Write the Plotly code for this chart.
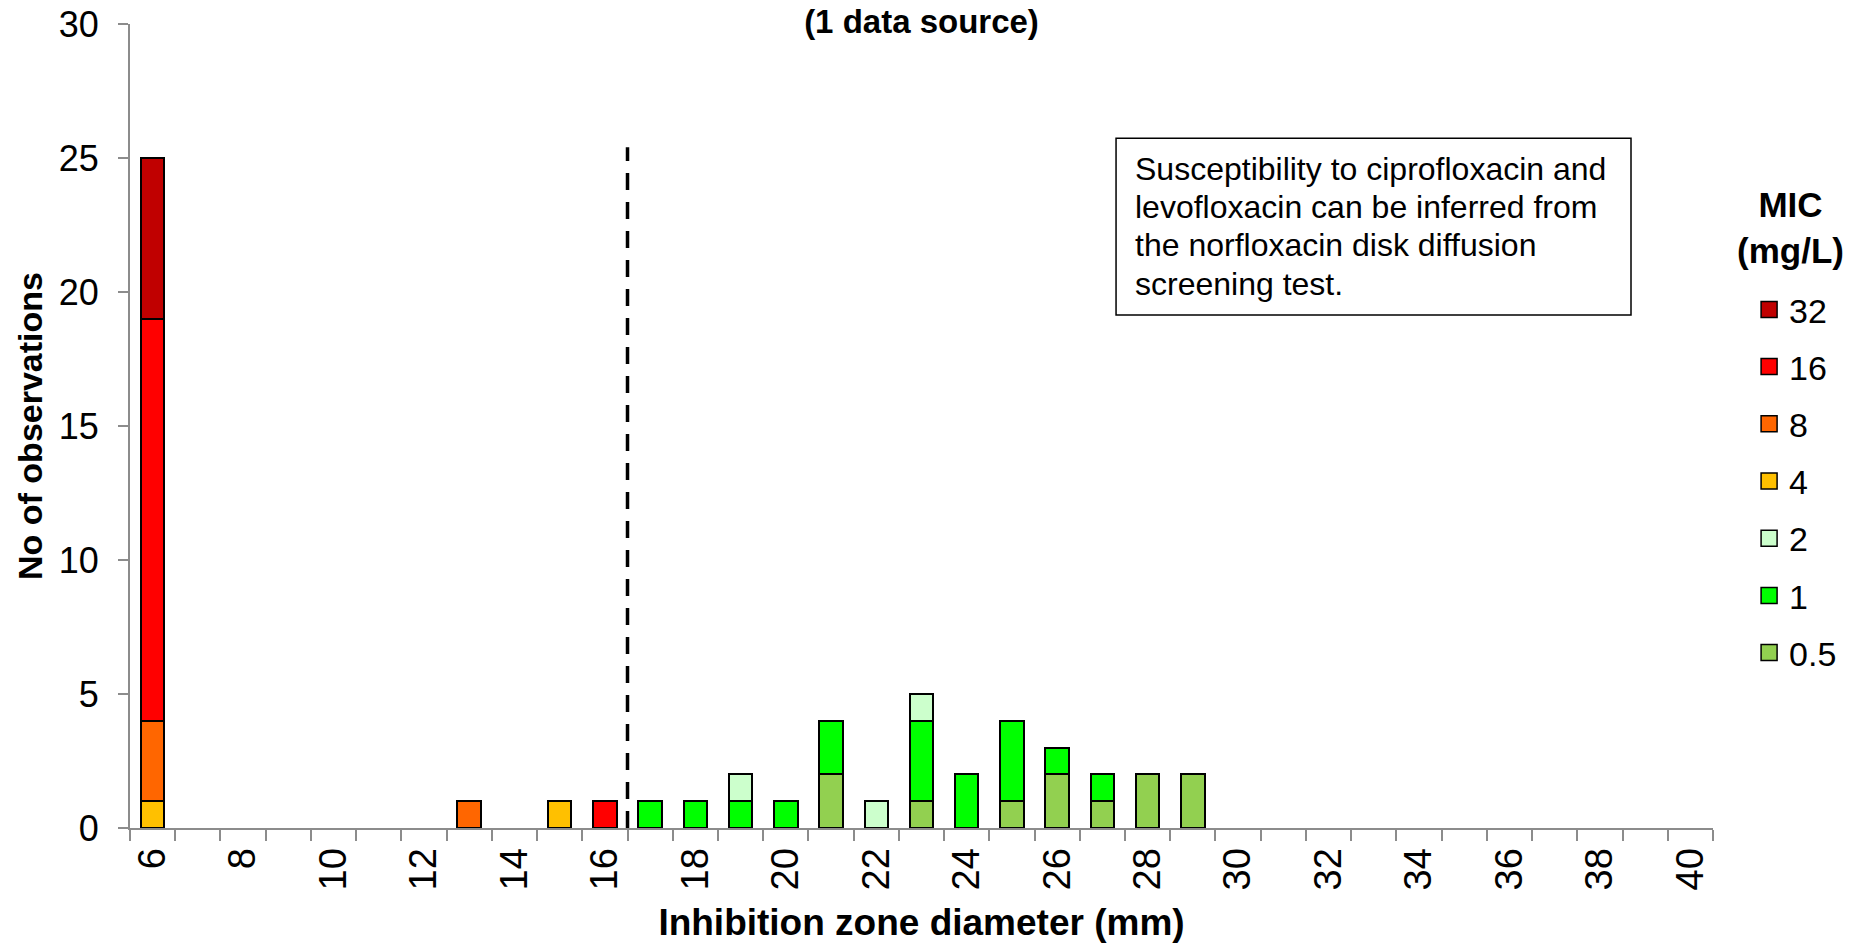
import plotly.graph_objects as go

# ---- data ----
diameters = list(range(6, 41))  # inhibition zone diameter (mm)
mic_labels = ["0.5", "1", "2", "4", "8", "16", "32"]  # stack order bottom -> top
mic_colors = ["#92D050", "#00FF00", "#CCFFCC", "#FFC000", "#FF6600", "#FF0000", "#C00000"]

#            6  7  8  9 10 11 12 13 14 15 16 17 18 19 20 21 22 23 24 25 26 27 28 29 30 31 32 33 34 35 36 37 38 39 40
mic_0_5 = [0, 0, 0, 0, 0, 0, 0, 0, 0, 0, 0, 0, 0, 0, 0, 2, 0, 1, 0, 1, 2, 1, 2, 2, 0, 0, 0, 0, 0, 0, 0, 0, 0, 0, 0]
mic_1   = [0, 0, 0, 0, 0, 0, 0, 0, 0, 0, 0, 1, 1, 1, 1, 2, 0, 3, 2, 3, 1, 1, 0, 0, 0, 0, 0, 0, 0, 0, 0, 0, 0, 0, 0]
mic_2   = [0, 0, 0, 0, 0, 0, 0, 0, 0, 0, 0, 0, 0, 1, 0, 0, 1, 1, 0, 0, 0, 0, 0, 0, 0, 0, 0, 0, 0, 0, 0, 0, 0, 0, 0]
mic_4   = [1, 0, 0, 0, 0, 0, 0, 0, 0, 1, 0, 0, 0, 0, 0, 0, 0, 0, 0, 0, 0, 0, 0, 0, 0, 0, 0, 0, 0, 0, 0, 0, 0, 0, 0]
mic_8   = [3, 0, 0, 0, 0, 0, 0, 1, 0, 0, 0, 0, 0, 0, 0, 0, 0, 0, 0, 0, 0, 0, 0, 0, 0, 0, 0, 0, 0, 0, 0, 0, 0, 0, 0]
mic_16  = [15, 0, 0, 0, 0, 0, 0, 0, 0, 0, 1, 0, 0, 0, 0, 0, 0, 0, 0, 0, 0, 0, 0, 0, 0, 0, 0, 0, 0, 0, 0, 0, 0, 0, 0]
mic_32  = [6, 0, 0, 0, 0, 0, 0, 0, 0, 0, 0, 0, 0, 0, 0, 0, 0, 0, 0, 0, 0, 0, 0, 0, 0, 0, 0, 0, 0, 0, 0, 0, 0, 0, 0]
mic_series = [mic_0_5, mic_1, mic_2, mic_4, mic_8, mic_16, mic_32]

x_tick_labels = list(range(6, 41, 2))
y_tick_values = [0, 5, 10, 15, 20, 25, 30]
breakpoint_mm = 16.5
breakpoint_top = 25.4

note_lines = [
    "Susceptibility to ciprofloxacin and",
    "levofloxacin can be inferred from",
    "the norfloxacin disk diffusion",
    "screening test.",
]

FONT = "Liberation Sans, Arial, sans-serif"
AXIS_GREY = "#8C8C8C"

fig = go.Figure()

for label, color, vals in zip(mic_labels, mic_colors, mic_series):
    fig.add_trace(go.Bar(
        x=diameters,
        y=[v if v else None for v in vals],
        name=label,
        marker=dict(color=color, line=dict(color="black", width=2)),
        showlegend=False,
    ))

# legend entries (top: 32 ... bottom: 0.5)
for label, color in reversed(list(zip(mic_labels, mic_colors))):
    fig.add_trace(go.Scatter(
        x=[None], y=[None], mode="markers", name=label,
        legendgroup=label,
        marker=dict(symbol="square", size=16, color=color,
                    line=dict(color="black", width=1.5)),
        showlegend=True,
    ))

fig.add_shape(type="line", x0=breakpoint_mm, x1=breakpoint_mm, y0=0, y1=breakpoint_top,
              xref="x", yref="y",
              line=dict(color="black", width=3.5, dash="17px,12px"))

# note box
fig.add_shape(type="rect", xref="paper", yref="paper",
              x0=0.6229, x1=0.9482, y0=0.638, y1=0.858,
              line=dict(color="black", width=1.5), fillcolor="white", layer="above")
line_y = [0.8197, 0.7724, 0.7251, 0.6766]
for txt, yy in zip(note_lines, line_y):
    fig.add_annotation(text=txt, xref="paper", yref="paper", x=0.6336, y=yy,
                       xanchor="left", yanchor="middle", showarrow=False,
                       font=dict(family=FONT, size=32, color="black"))

# legend title
fig.add_annotation(text="<b>MIC</b><br><b>(mg/L)</b>", xref="paper", yref="paper",
                   x=1.0487, y=0.7475, xanchor="center", yanchor="middle",
                   showarrow=False, align="center",
                   font=dict(family=FONT, size=35, color="black"))

fig.update_layout(
    width=1856, height=943,
    margin=dict(l=130, r=143, t=24, b=115, autoexpand=False),
    paper_bgcolor="white", plot_bgcolor="white",
    barmode="stack", bargap=0.48,
    hovermode=False,
    font=dict(family=FONT, color="black"),
    title=dict(text="<b>(1 data source)</b>", x=0.5, xref="paper", xanchor="center",
               y=1 - 21 / 943, yref="container", yanchor="middle",
               font=dict(family=FONT, size=33, color="black")),
    xaxis=dict(
        range=[5.5, 40.5], tickmode="array", tickvals=x_tick_labels,
        ticktext=[str(v) for v in x_tick_labels], tickangle=-90,
        ticks="", ticklabelstandoff=3, ticklabeloverflow="allow",
        tickfont=dict(family=FONT, size=38, color="black"),
        showgrid=False, zeroline=False,
        showline=True, linecolor=AXIS_GREY, linewidth=2,
        minor=dict(tick0=5.5, dtick=1, ticks="outside", ticklen=11,
                   tickcolor=AXIS_GREY, tickwidth=2, showgrid=False),
        title=dict(text="<b>Inhibition zone diameter (mm)</b>", standoff=28,
                   font=dict(family=FONT, size=37, color="black")),
    ),
    yaxis=dict(
        range=[0, 30], tickmode="array", tickvals=y_tick_values,
        ticks="outside", ticklen=10, tickcolor=AXIS_GREY, tickwidth=2,
        ticklabelstandoff=12, ticklabeloverflow="allow",
        tickfont=dict(family=FONT, size=36, color="black"),
        showgrid=False, zeroline=False,
        showline=True, linecolor=AXIS_GREY, linewidth=2,
        title=dict(text="<b>No of observations</b>", standoff=6,
                   font=dict(family=FONT, size=34, color="black")),
    ),
    legend=dict(
        x=1.0228, xanchor="left", y=0.6806, yanchor="top",
        traceorder="grouped", tracegroupgap=10,
        font=dict(family=FONT, size=34, color="black"),
        bgcolor="rgba(0,0,0,0)", borderwidth=0,
    ),
)

fig.write_html("out.html",
               config={"displayModeBar": False},
               post_script="document.body.style.margin='0';document.body.style.overflow='hidden';")
